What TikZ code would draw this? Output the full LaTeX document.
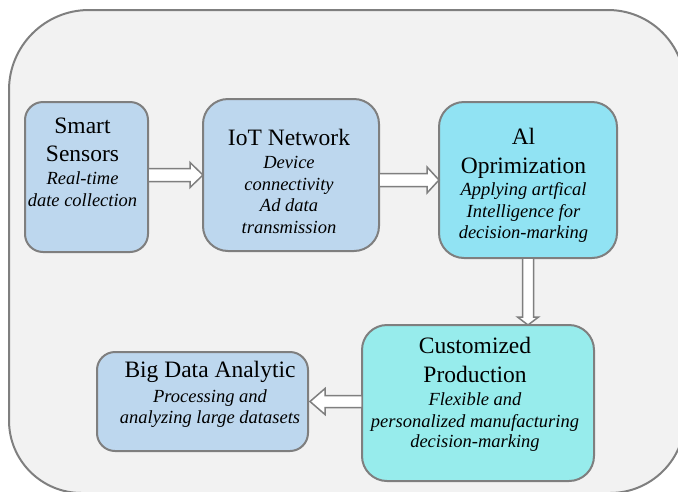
\documentclass[tikz,border=0pt]{standalone}
\usepackage{fontspec}
\setmainfont{Liberation Serif}
\usetikzlibrary{calc}
\definecolor{bgframe}{HTML}{F2F2F2}
\definecolor{lineg}{HTML}{7F7F7F}
\definecolor{lblue}{HTML}{BDD7EE}
\definecolor{aicyan}{HTML}{91E3F3}
\definecolor{cpcyan}{HTML}{97ECEC}
\newcommand\ttlfont{\fontsize{23.5}{28}\selectfont\upshape}
\newcommand\subfont{\fontsize{18.5}{22}\selectfont\itshape}
\begin{document}
\begin{tikzpicture}[x=1pt,y=-1pt,
 box/.style={draw=lineg,line width=2pt,inner sep=0pt,outer sep=0pt},
 txt/.style={align=center,anchor=north,inner sep=0pt,font=\subfont,text=black},
 barrow/.style={draw=lineg,line width=1.5pt,fill=white,line join=miter}]
\useasboundingbox (0,0) rectangle (678,491);
\begin{scope}
\clip (0,0) rectangle (678,491);
\draw[draw=lineg,line width=2pt,fill=bgframe] (9,90) arc(180:270:80) -- (608,10) arc(270:360:77) -- (685,418) arc(0:90:75) -- (81.5,493) arc(90:180:72.5) -- cycle;
\end{scope}

% boxes
\node[box,fill=lblue,rounded corners=18pt,minimum width=123pt,minimum height=150pt] (s1) at (86.5,177) {};
\node[box,fill=lblue,rounded corners=25pt,minimum width=176pt,minimum height=152pt] (s2) at (291,175) {};
\node[box,fill=aicyan,rounded corners=25pt,minimum width=178pt,minimum height=156pt] (s3) at (528,180) {};
\node[box,fill=cpcyan,rounded corners=25pt,minimum width=232pt,minimum height=156pt] (s4) at (478,403) {};
\node[box,fill=lblue,rounded corners=18pt,minimum width=211pt,minimum height=99pt] (s5) at (202.5,401.5) {};

% texts
\node[txt] (t1) at ($(s1.north)+(-4,16)$) {{\ttlfont Smart}\\[6pt]{\ttlfont Sensors}\\[1pt]Real-time\\date collection};
\node[txt] (t2) at ($(s2.north)+(-2,30)$) {{\ttlfont IoT Network}\\[1pt]Device\\connectivity\\[-1pt]Ad data\\transmission};
\node[txt] (t3) at ($(s3.north)+(-4.5,26)$) {{\ttlfont Al}\\[7pt]{\ttlfont Oprimization}\\[0pt]Applying artfical\\Intelligence for\\[-1pt]decision-marking};
\node[txt] (t4) at ($(s4.north)+(-3,12)$) {{\ttlfont Customized}\\[7pt]{\ttlfont Production}\\[1pt]Flexible and\\personalized manufacturing\\[-2pt]decision-marking};
\node[txt] (t5) at ($(s5.north)+(7.5,9)$) {{\ttlfont Big Data Analytic}\\[3pt]Processing and\\[-1pt]analyzing large datasets};

% arrows
\coordinate (a1) at (s1.east |- s2.west);
\draw[barrow] ($(a1)+(0,-6.5)$) -- ($(s2.west)+(-13,-6.5)$) -- ($(s2.west)+(-13,-12.5)$) -- (s2.west) -- ($(s2.west)+(-13,12.5)$) -- ($(s2.west)+(-13,6.5)$) -- ($(a1)+(0,6.5)$) -- cycle;
\coordinate (a2) at (s2.east |- s3.west);
\draw[barrow] ($(a2)+(0,-6.5)$) -- ($(s3.west)+(-12,-6.5)$) -- ($(s3.west)+(-12,-13)$) -- (s3.west) -- ($(s3.west)+(-12,13)$) -- ($(s3.west)+(-12,6.5)$) -- ($(a2)+(0,6.5)$) -- cycle;
\coordinate (a3) at (s3.south |- s4.north);
\draw[barrow] ($(s3.south)+(-5.5,0)$) -- ($(a3)+(-5.5,-8)$) -- ($(a3)+(-10.5,-8)$) -- (a3) -- ($(a3)+(10.5,-8)$) -- ($(a3)+(5.5,-8)$) -- ($(s3.south)+(5.5,0)$) -- cycle;
\coordinate (a4s) at (s4.west |- s5.east);
\coordinate (a4) at ($(s5.east)+(2,0)$);
\draw[barrow] ($(a4s)+(0,-6)$) -- ($(a4)+(15,-6)$) -- ($(a4)+(15,-13)$) -- (a4) -- ($(a4)+(15,13)$) -- ($(a4)+(15,6)$) -- ($(a4s)+(0,6)$) -- cycle;
\end{tikzpicture}
\end{document}
